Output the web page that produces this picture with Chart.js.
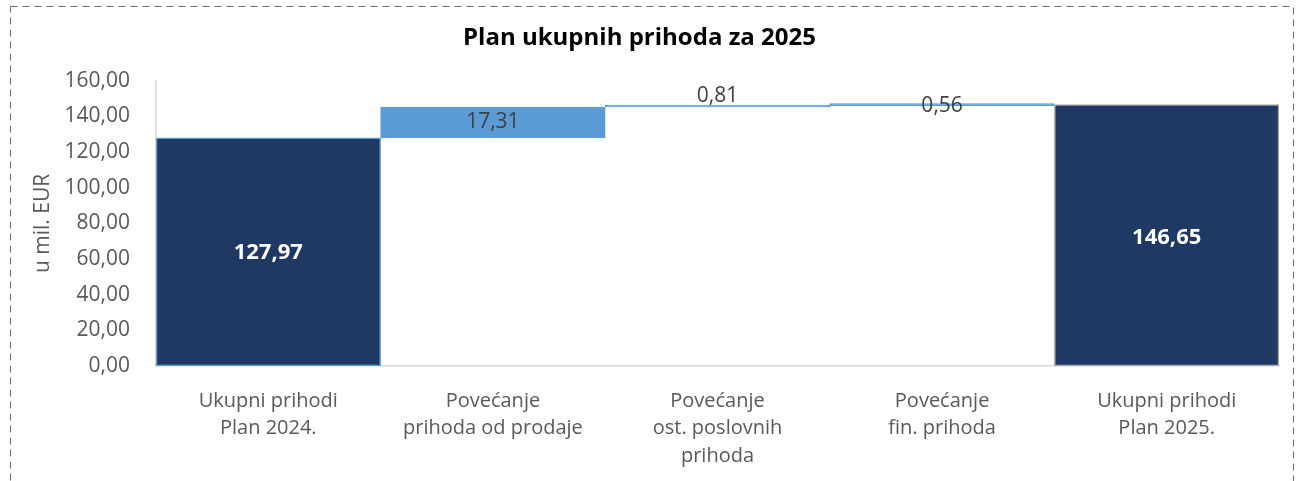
<!DOCTYPE html>
<html lang="hr">
<head>
    <meta charset="UTF-8">
    <title>Plan ukupnih prihoda za 2025</title>
    <script src="https://cdn.jsdelivr.net/npm/chart.js"></script>
    <style>
        body {
            margin: 0;
            background: #ffffff;
        }
        #wrap {
            position: relative;
            width: 1300px;
            height: 481px;
        }
    </style>
</head>
<body>
    <div id="wrap">
        <canvas id="waterfallChart" width="1300" height="481"></canvas>
    </div>

    <script>
        // categories (multi-line labels) and values, u mil. EUR
        const categories = [
            ['Ukupni prihodi', 'Plan 2024.'],
            ['Povećanje', 'prihoda od prodaje'],
            ['Povećanje', 'ost. poslovnih', 'prihoda'],
            ['Povećanje', 'fin. prihoda'],
            ['Ukupni prihodi', 'Plan 2025.']
        ];
        const values = [127.97, 17.31, 0.81, 0.56, 146.65];
        const isTotal = [true, false, false, false, true];
        const yTicks = [0, 20, 40, 60, 80, 100, 120, 140, 160];

        const navy = '#203864';
        const lightBlue = '#5b9bd5';

        // floating bars: totals from zero, increments stacked on the running sum
        let running = 0;
        const ranges = values.map((v, i) => {
            if (isTotal[i]) {
                running = v;
                return [0, v];
            }
            const r = [running, running + v];
            running += v;
            return r;
        });

        const fmt = v => v.toFixed(2).replace('.', ',');

        // label placement per bar (Excel put 0,81 above its bar)
        const labelShift = [1, 0, -10, 1, 2];

        const frameBorder = {
            id: 'frameBorder',
            afterDraw(chart) {
                const ctx = chart.ctx;
                ctx.save();
                ctx.strokeStyle = '#5f6f8a';
                ctx.lineWidth = 1;
                ctx.setLineDash([7, 5]);
                ctx.strokeRect(10.5, 6.5, 1283, 520);
                ctx.restore();
            }
        };

        const barLabels = {
            id: 'barLabels',
            afterDatasetsDraw(chart) {
                const ctx = chart.ctx;
                const meta = chart.getDatasetMeta(0);
                ctx.save();
                ctx.textAlign = 'center';
                ctx.textBaseline = 'middle';
                meta.data.forEach((bar, i) => {
                    const mid = (bar.y + bar.base) / 2;
                    if (isTotal[i]) {
                        ctx.fillStyle = '#ffffff';
                        ctx.font = 'bold 22px "Open Sans"';
                    } else {
                        ctx.fillStyle = '#404040';
                        ctx.font = '21px "Open Sans"';
                    }
                    ctx.fillText(fmt(values[i]), bar.x, mid + labelShift[i]);
                });
                ctx.restore();
            }
        };

        new Chart(document.getElementById('waterfallChart'), {
            type: 'bar',
            data: {
                labels: categories,
                datasets: [{
                    data: ranges,
                    backgroundColor: isTotal.map(t => t ? navy : lightBlue),
                    borderColor: ['#5b9bd5', '#5b9bd5', '#5b9bd5', '#5b9bd5', '#a6a6a6'],
                    borderWidth: 1.5,
                    borderSkipped: false,
                    categoryPercentage: 1.0,
                    barPercentage: 1.0,
                    minBarLength: 2
                }]
            },
            options: {
                responsive: false,
                animation: false,
                layout: { padding: { left: 0, right: 21, top: 0, bottom: 0 } },
                plugins: {
                    legend: { display: false },
                    tooltip: { enabled: false },
                    title: {
                        display: true,
                        text: 'Plan ukupnih prihoda za 2025',
                        color: '#000000',
                        font: { family: 'Open Sans', size: 24, weight: 'bold' },
                        padding: { top: 24, bottom: 28 }
                    }
                },
                scales: {
                    x: {
                        grid: { display: false },
                        border: { display: true, color: '#d9d9d9', width: 1.5 },
                        ticks: {
                            color: '#595959',
                            font: { family: 'Open Sans', size: 20, lineHeight: 1.38 },
                            padding: 13,
                            maxRotation: 0,
                            autoSkip: false
                        },
                        afterFit(scale) { scale.height = 115; }
                    },
                    y: {
                        min: 0,
                        max: 160,
                        afterBuildTicks(scale) { scale.ticks = yTicks.map(v => ({ value: v })); },
                        grid: { display: false },
                        border: { display: true, color: '#d9d9d9', width: 1.5 },
                        ticks: {
                            color: '#595959',
                            font: { family: 'Open Sans', size: 21 },
                            padding: 18,
                            callback: v => fmt(v)
                        },
                        title: {
                            display: true,
                            text: 'u mil. EUR',
                            color: '#595959',
                            font: { family: 'Open Sans', size: 21 },
                            padding: { top: 30, bottom: 0 }
                        },
                        afterFit(scale) { scale.width = 156; }
                    }
                }
            },
            plugins: [barLabels, frameBorder]
        });
    </script>
</body>
</html>
